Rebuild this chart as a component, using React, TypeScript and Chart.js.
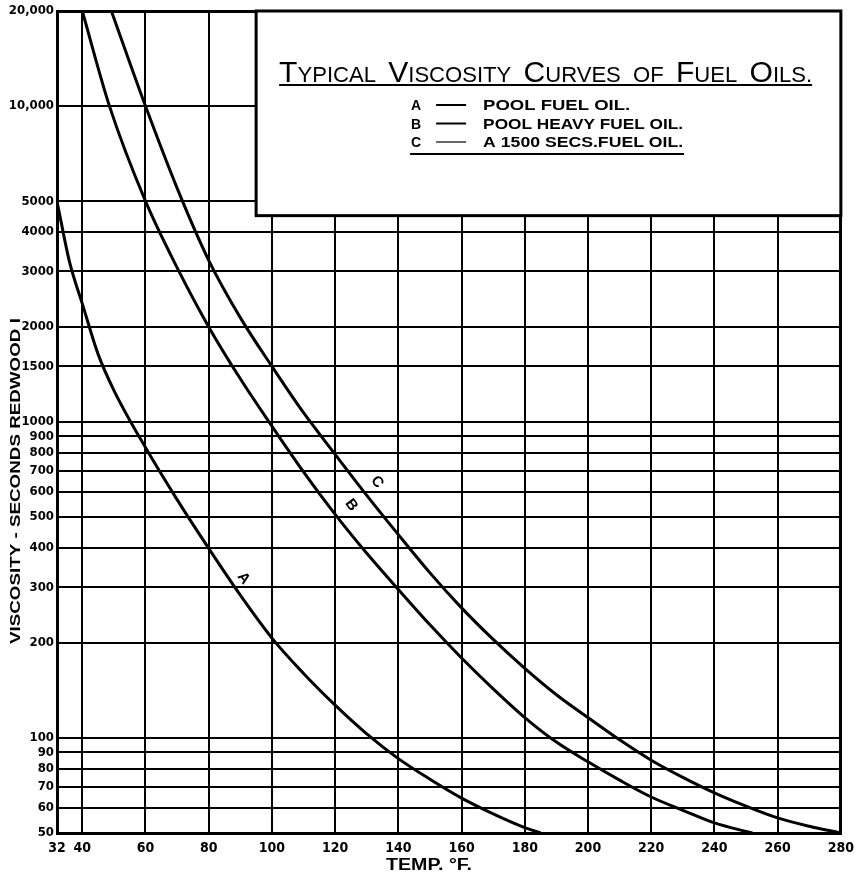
import React, { useEffect, useRef } from 'react';
import { Chart, registerables } from 'chart.js';
Chart.register(...registerables);

// ---- data ----
const xTicks = [32, 40, 60, 80, 100, 120, 140, 160, 180, 200, 220, 240, 260, 280];
const yTicks = [50, 60, 70, 80, 90, 100, 200, 300, 400, 500, 600, 700, 800, 900, 1000, 1500, 2000, 3000, 4000, 5000, 10000, 20000];

const tempA = [32, 36, 40, 45, 50, 60, 70, 80, 90, 100, 110, 120, 130, 140, 150, 160, 170, 180, 185];
const viscA = [5000, 3200, 2370, 1640, 1260, 830, 568, 398, 283, 207, 160, 127, 103, 86, 74, 64.5, 57.5, 52, 50];
const tempB = [40, 48.6, 60, 70, 80, 90, 100, 110, 120, 130, 140, 150, 160, 170, 180, 190, 200, 210, 220, 230, 240, 252];
const viscB = [20000, 10000, 5000, 3080, 2000, 1370, 970, 695, 510, 384, 295, 228, 179, 143, 116, 97, 84, 73.5, 65, 59, 53.8, 50];
const tempC = [49.2, 60, 70, 80, 90, 100, 110, 120, 130, 140, 150, 160, 170, 180, 190, 200, 210, 220, 230, 240, 250, 260, 270, 280];
const viscC = [20000, 10000, 5500, 3250, 2140, 1500, 1070, 790, 586, 440, 333, 258, 205, 166, 137, 116, 98.6, 85, 75, 67, 60.8, 55.8, 52.5, 50];

const curveKeys = ['A', 'B', 'C'];
const curveLabelTemp = [91, 125.1, 133.3];
const curveLabelVisc = [320, 546, 645];

const legendNames = ['POOL FUEL OIL.', 'POOL HEAVY FUEL OIL.', 'A 1500 SECS.FUEL OIL.'];
const titleText = 'TYPICAL VISCOSITY CURVES OF FUEL OILS.';
const xTitle = 'TEMP. °F.';
const yTitle = 'VISCOSITY - SECONDS REDWOOD I';

// legend box extent in data units
const boxTemp = 95;
const boxVisc = 4500;

const TICK_FONT = "'Liberation Sans Narrow', 'DejaVu Sans Condensed', 'Liberation Sans', sans-serif";
const SANS = "'Liberation Sans', 'DejaVu Sans', sans-serif";

type Seg = { t: string; font: string };

function drawFitted(ctx: CanvasRenderingContext2D, segs: Seg[], x0: number, base: number, width: number) {
  let total = 0;
  const ws: number[] = [];
  for (const s of segs) {
    ctx.font = s.font;
    const w = ctx.measureText(s.t).width;
    ws.push(w);
    total += w;
  }
  const k = width / total;
  ctx.save();
  ctx.translate(x0, base);
  ctx.scale(k, 1);
  ctx.textBaseline = 'alphabetic';
  ctx.textAlign = 'left';
  let cx = 0;
  segs.forEach((s, i) => {
    ctx.font = s.font;
    ctx.fillText(s.t, cx, 0);
    cx += ws[i];
  });
  ctx.restore();
}

const overlayPlugin = {
  id: 'overlay',
  afterDatasetsDraw(chart: any) {
    const { ctx, chartArea, scales } = chart;
    const x = scales.x;
    const y = scales.y;
    ctx.save();
    ctx.fillStyle = '#000';
    ctx.strokeStyle = '#000';

    // curve labels
    curveKeys.forEach((k, i) => {
      const px = x.getPixelForValue(curveLabelTemp[i]);
      const py = y.getPixelForValue(curveLabelVisc[i]);
      ctx.save();
      ctx.translate(px, py);
      ctx.rotate((53 * Math.PI) / 180);
      ctx.font = `bold 15px ${SANS}`;
      ctx.textAlign = 'center';
      ctx.textBaseline = 'middle';
      ctx.fillText(k, 0, 0);
      ctx.restore();
    });

    // legend box
    const bx = x.getPixelForValue(boxTemp);
    const by = y.getPixelForValue(20000);
    const bw = chartArea.right - bx;
    const bh = y.getPixelForValue(boxVisc) - by;
    ctx.fillStyle = '#fff';
    ctx.fillRect(bx, by, bw, bh);
    ctx.lineWidth = 3;
    ctx.strokeRect(bx, by, bw, bh);
    ctx.fillStyle = '#000';

    // title with large initials
    const big = `30px ${SANS}`;
    const small = `22px ${SANS}`;
    const segs: Seg[] = [];
    const words = titleText.split(' ');
    words.forEach((w, i) => {
      if (w === 'OF') {
        segs.push({ t: w, font: small });
      } else {
        segs.push({ t: w[0], font: big });
        segs.push({ t: w.slice(1), font: small });
      }
      if (i < words.length - 1) segs.push({ t: '  ', font: small });
    });
    drawFitted(ctx, segs, bx + 23, by + 71, 533);
    ctx.lineWidth = 1.8;
    ctx.beginPath();
    ctx.moveTo(bx + 23, by + 74);
    ctx.lineTo(bx + 556, by + 74);
    ctx.stroke();

    // legend rows
    const rowBase = [99, 117.5, 136];
    const rowWidth = [147, 200, 200];
    curveKeys.forEach((k, i) => {
      ctx.font = `bold 14px ${SANS}`;
      ctx.textAlign = 'left';
      ctx.textBaseline = 'alphabetic';
      ctx.fillText(k, bx + 155, by + rowBase[i]);
      ctx.lineWidth = i === 2 ? 1.2 : 2;
      ctx.beginPath();
      ctx.moveTo(bx + 180, by + rowBase[i] - 5);
      ctx.lineTo(bx + 210, by + rowBase[i] - 5);
      ctx.stroke();
      drawFitted(ctx, [{ t: legendNames[i], font: `bold 14px ${SANS}` }], bx + 227, by + rowBase[i], rowWidth[i]);
    });
    ctx.lineWidth = 2;
    ctx.beginPath();
    ctx.moveTo(bx + 154, by + 143);
    ctx.lineTo(bx + 428, by + 143);
    ctx.stroke();

    // axis titles
    const xt = x.getPixelForValue(149.7);
    const xw = 86;
    drawFitted(ctx, [{ t: xTitle, font: `bold 16px ${SANS}` }], xt - xw / 2, chartArea.bottom + 37, xw);

    ctx.save();
    ctx.translate(20, y.getPixelForValue(650));
    ctx.rotate(-Math.PI / 2);
    drawFitted(ctx, [{ t: yTitle, font: `bold 14px ${SANS}` }], -163, 0, 326);
    ctx.restore();

    ctx.restore();
  },
};

function mk(temps: number[], vals: number[]) {
  return temps.map((t, i) => ({ x: t, y: vals[i] }));
}

export default function App() {
  const ref = useRef<HTMLCanvasElement>(null);
  useEffect(() => {
    document.body.style.margin = '0';
    const canvas = ref.current;
    if (!canvas) return;
    const lineDs = (label: string, data: any[]) => ({
      label,
      data,
      borderColor: '#000',
      borderWidth: 3,
      pointRadius: 0,
      fill: false,
      cubicInterpolationMode: 'monotone' as const,
    });
    const chart = new Chart(canvas, {
      type: 'line',
      data: {
        datasets: [
          lineDs('A', mk(tempA, viscA)),
          lineDs('B', mk(tempB, viscB)),
          lineDs('C', mk(tempC, viscC)),
        ],
      },
      options: {
        animation: false,
        responsive: true,
        maintainAspectRatio: false,
        layout: { padding: { top: 11, right: 18, left: 0, bottom: 0 } },
        plugins: { legend: { display: false }, tooltip: { enabled: false } },
        scales: {
          x: {
            type: 'linear',
            min: 32,
            max: 280,
            afterBuildTicks: (s: any) => {
              s.ticks = xTicks.map((v) => ({ value: v }));
            },
            afterFit: (s: any) => {
              s.height = 42;
            },
            grid: {
              color: '#000',
              lineWidth: (c: any) => (c.tick && c.tick.value === 280 ? 3 : 2),
              drawTicks: false,
            },
            border: { display: true, color: '#000', width: 3 },
            ticks: {
              autoSkip: false,
              maxRotation: 0,
              padding: 7,
              color: '#000',
              font: { family: TICK_FONT, weight: 'bold', size: 14 },
              callback: (v: any) => String(v),
            },
          },
          y: {
            type: 'logarithmic',
            min: 50,
            max: 20000,
            afterBuildTicks: (s: any) => {
              s.ticks = yTicks.map((v) => ({ value: v }));
            },
            afterFit: (s: any) => {
              s.width = 57;
            },
            grid: {
              color: '#000',
              lineWidth: (c: any) => (c.tick && c.tick.value === 20000 ? 3 : 2),
              drawTicks: false,
            },
            border: { display: true, color: '#000', width: 3 },
            ticks: {
              autoSkip: false,
              padding: 3,
              color: '#000',
              font: { family: TICK_FONT, weight: 'bold', size: 13 },
              callback: (v: any) => (v >= 10000 ? Number(v).toLocaleString('en-US') : String(v)),
            },
          },
        },
      },
      plugins: [overlayPlugin],
    });
    return () => chart.destroy();
  }, []);
  return (
    <div style={{ width: 861, height: 875, position: 'relative', background: '#fff' }}>
      <canvas ref={ref} />
    </div>
  );
}
